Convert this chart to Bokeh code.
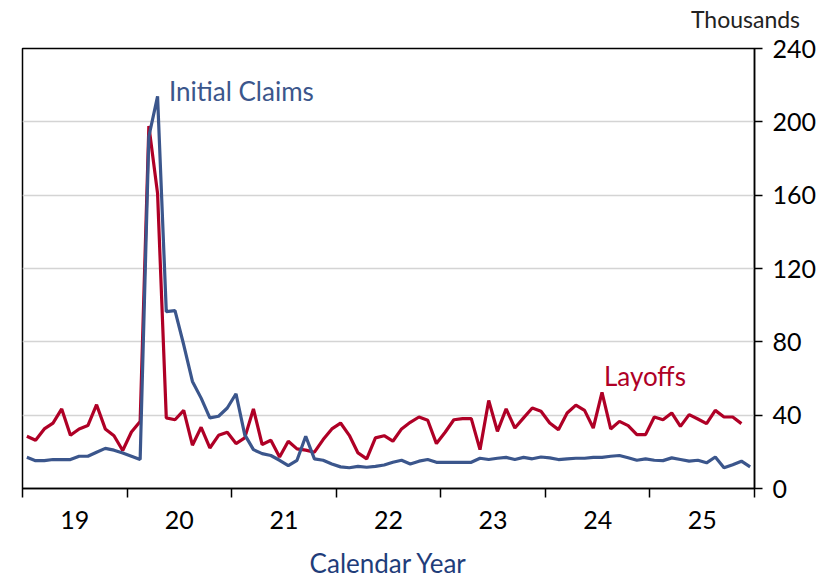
import numpy as np
from bokeh.plotting import figure
from bokeh.models import Range1d, FixedTicker, Label, LinearAxis
from bokeh.embed import file_html
from bokeh.resources import INLINE

# Monthly data, Jan 2019 onward (thousands)
layoffs = [28.5, 26.3, 32.5, 35.7, 43.4, 29.0, 32.5, 34.3, 45.7, 32.5, 28.8, 20.7,
           30.8, 36.6, 197.7, 161.0, 38.5, 37.5, 42.6, 23.6, 33.4, 22.1, 29.0, 30.7,
           24.5, 27.6, 43.4, 24.0, 26.3, 17.2, 25.8, 21.6, 20.9, 19.8, 26.7, 32.5,
           35.7, 29.0, 19.4, 16.2, 27.6, 28.8, 25.8, 32.5, 36.1, 39.0, 37.2, 24.5,
           30.7, 37.5, 38.1, 38.1, 21.2, 48.0, 31.2, 43.4, 33.0, 38.5, 43.9, 42.1,
           35.7, 32.1, 41.2, 45.5, 42.6, 33.0, 52.4, 32.5, 36.6, 34.3, 29.4, 29.4,
           39.0, 37.5, 41.2, 33.9, 40.3, 37.9, 35.4, 42.6, 39.0, 39.0, 35.4]
claims = [17.0, 15.2, 15.2, 15.8, 15.8, 15.8, 17.6, 17.6, 19.8, 21.9, 20.9, 19.4,
          17.6, 15.8, 192.0, 213.9, 96.5, 97.0, 78.4, 58.4, 49.3, 38.5, 39.4, 43.9,
          51.7, 29.4, 21.2, 19.0, 18.0, 15.4, 12.5, 15.4, 28.5, 16.2, 15.4, 13.4,
          11.8, 11.3, 12.1, 11.6, 12.1, 12.8, 14.3, 15.4, 13.4, 14.9, 15.8, 14.3,
          14.3, 14.3, 14.3, 14.3, 16.5, 15.8, 16.5, 17.0, 15.8, 17.0, 16.2, 17.2,
          16.7, 15.8, 16.2, 16.5, 16.5, 17.0, 17.0, 17.6, 18.0, 16.8, 15.4, 16.2,
          15.4, 15.2, 16.7, 15.8, 14.9, 15.4, 14.0, 17.2, 11.3, 13.0, 14.9, 11.8]
start_year = 2019
year_labels = ["19", "20", "21", "22", "23", "24", "25"]
y_ticks = [0, 40, 80, 120, 160, 200, 240]
unit_label = "Thousands"

BLUE = "#3B568C"
RED = "#AF0026"
FONT = "Lato"

x_lay = start_year + (np.arange(len(layoffs)) + 0.5) / 12
x_clm = start_year + (np.arange(len(claims)) + 0.5) / 12

n_years = len(year_labels)
p = figure(width=826, height=581, output_backend="svg", toolbar_location=None,
           x_range=Range1d(start_year, start_year + n_years),
           y_range=Range1d(y_ticks[0], y_ticks[-1]),
           x_axis_location=None, y_axis_location=None,
           min_border_left=22, min_border_right=72, min_border_top=48, min_border_bottom=91)
p.background_fill_color = "white"
p.border_fill_color = "white"
p.outline_line_color = "black"
p.outline_line_width = 1.5

# unit label above the right axis, as a single-tick axis on top
unit_pos = start_year + n_years - 0.086
ta = LinearAxis(ticker=FixedTicker(ticks=[unit_pos], minor_ticks=[]))
ta.major_label_overrides = {unit_pos: unit_label}
ta.axis_line_color = None
ta.major_tick_line_color = None
ta.major_tick_out = 0
ta.major_tick_in = 0
ta.minor_tick_out = 0
ta.minor_tick_in = 0
ta.major_label_text_font = FONT
ta.major_label_text_font_size = "23px"
ta.major_label_text_color = "#222222"
ta.major_label_standoff = 16
p.add_layout(ta, "above")

# right axis
ya = LinearAxis(ticker=FixedTicker(ticks=y_ticks))
ya.major_tick_out = 8
ya.major_tick_in = 0
ya.minor_tick_out = 0
ya.minor_tick_in = 0
ya.axis_line_width = 1.5
ya.major_tick_line_width = 1.5
ya.major_label_text_font = FONT
ya.major_label_text_font_size = "25px"
ya.major_label_text_color = "black"
ya.major_label_standoff = 10
p.add_layout(ya, "right")

# bottom axis: labels at year mid, ticks at year boundaries
mids = [start_year + i + 0.5 for i in range(n_years)]
bounds = [start_year + i for i in range(n_years + 1)]
xa = LinearAxis(ticker=FixedTicker(ticks=mids, minor_ticks=bounds))
xa.major_label_overrides = {m: lab for m, lab in zip(mids, year_labels)}
xa.major_tick_out = 0
xa.major_tick_in = 0
xa.minor_tick_out = 9
xa.minor_tick_in = 0
xa.minor_tick_line_color = "black"
xa.minor_tick_line_width = 1.5
xa.axis_line_width = 1.5
xa.major_label_text_font = FONT
xa.major_label_text_font_size = "25px"
xa.major_label_text_color = "black"
xa.major_label_standoff = 13
xa.axis_label = "Calendar Year"
xa.axis_label_text_font = FONT
xa.axis_label_text_font_size = "26px"
xa.axis_label_text_font_style = "normal"
xa.axis_label_text_color = "#1F3D7A"
xa.axis_label_standoff = 15
p.add_layout(xa, "below")

p.xgrid.grid_line_color = None
p.ygrid.ticker = FixedTicker(ticks=y_ticks[1:-1])
p.ygrid.grid_line_color = "#D4D4D4"
p.ygrid.grid_line_width = 1.5

p.line(x_lay, layoffs, line_color=RED, line_width=3.2)
p.line(x_clm, claims, line_color=BLUE, line_width=3.2)

p.add_layout(Label(x=2020.40, y=217, text="Initial Claims", text_font=FONT,
                   text_font_size="26px", text_color=BLUE, text_baseline="middle"))
p.add_layout(Label(x=2024.56, y=61.5, text="Layoffs", text_font=FONT,
                   text_font_size="26px", text_color=RED, text_baseline="middle"))

open("out.html", "w").write(file_html(p, INLINE))
